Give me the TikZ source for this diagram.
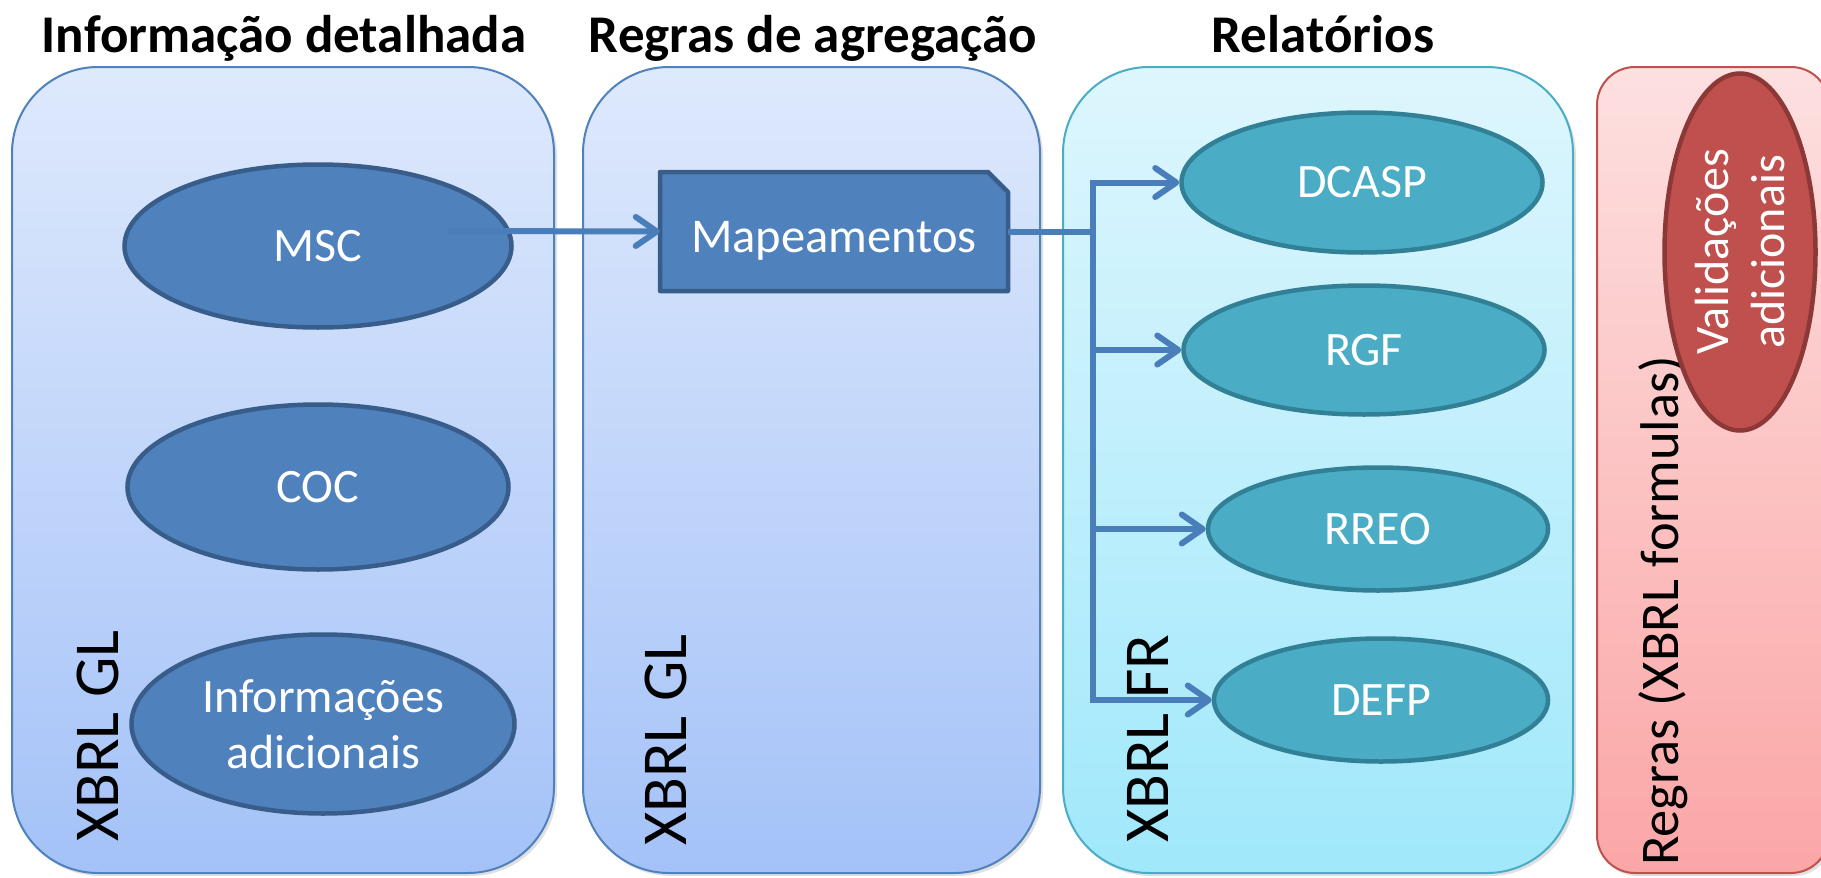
\documentclass[tikz,border=0pt]{standalone}
\usepackage{fontspec}
\setmainfont{Carlito}
\usetikzlibrary{arrows.meta,shapes.geometric,calc}
\definecolor{pbTop}{RGB}{222,233,252}
\definecolor{pbBot}{RGB}{164,194,248}
\definecolor{pbLine}{RGB}{79,129,189}
\definecolor{pcTop}{RGB}{222,246,253}
\definecolor{pcBot}{RGB}{160,232,251}
\definecolor{pcLine}{RGB}{75,172,198}
\definecolor{prTop}{RGB}{253,224,224}
\definecolor{prBot}{RGB}{251,166,166}
\definecolor{prLine}{RGB}{192,80,77}
\definecolor{eBlue}{RGB}{79,129,189}
\definecolor{eBlueLine}{RGB}{56,93,138}
\definecolor{eTeal}{RGB}{75,172,198}
\definecolor{eTealLine}{RGB}{49,128,150}
\definecolor{eRed}{RGB}{192,80,77}
\definecolor{eRedLine}{RGB}{140,56,54}
\definecolor{conn}{RGB}{74,126,187}
\begin{document}
\begin{tikzpicture}[x=1pt,y=-1pt,
  shadowbox/.style={fill=black,opacity=0.12},
  bluepanel/.style={draw=pbLine,line width=2pt,top color=pbTop,bottom color=pbBot},
  cyanpanel/.style={draw=pcLine,line width=2pt,top color=pcTop,bottom color=pcBot},
  redpanel/.style={draw=prLine,line width=2pt,top color=prTop,bottom color=prBot},
  title/.style={font=\fontsize{53}{60}\selectfont\bfseries,anchor=base,inner sep=0pt},
  vlabel/.style={font=\fontsize{64}{70}\selectfont,rotate=90,anchor=base west,inner sep=0pt},
  ellbase/.style={ellipse,line width=4.5pt,text=white,inner sep=0pt,
     font=\fontsize{48}{56}\selectfont,align=center},
  capc/.style={text height=30.3pt,text depth=0pt},
  blueell/.style={ellbase,draw=eBlueLine,fill=eBlue},
  tealell/.style={ellbase,draw=eTealLine,fill=eTeal,capc},
  redell/.style={ellbase,draw=eRedLine,fill=eRed},
  mapeshape/.style={draw=eBlueLine,fill=eBlue,line width=4.5pt,line join=round},
  arrow/.style={draw=conn,line width=6pt,-{Straight Barb[length=21pt,width=29pt,round]}}
]
\useasboundingbox (0,0) rectangle (1821,878);
\clip (0,0) rectangle (1821,878);
\fill[white] (0,0) rectangle (1821,878);

% titles
\node[title] (t1) at (284,52) {Informação detalhada};
\node[title] (t2) at (813,52) {Regras de agregação};
\node[title] (t3) at (1323,52) {Relatórios};

% panel shadows
\fill[shadowbox,rounded corners=86pt] (14,70) rectangle (557,876);
\fill[shadowbox,rounded corners=86pt] (585,70) rectangle (1043,876);
\fill[shadowbox,rounded corners=86pt] (1065,70) rectangle (1576,876);
\fill[shadowbox,rounded corners=38pt] (1599,70) rectangle (1832,876);

% panels
\path[bluepanel,rounded corners=86pt] (12,67) rectangle (554,873);
\path[bluepanel,rounded corners=86pt] (583,67) rectangle (1040,873);
\path[cyanpanel,rounded corners=86pt] (1063,67) rectangle (1573,873);
\path[redpanel,rounded corners=38pt] (1597,67) rectangle (1829,873);

% vertical labels
\node[vlabel] (gl1) at (118,842) {XBRL GL};
\node[vlabel] (gl2) at (686,846) {XBRL GL};
\node[vlabel] (fr) at (1168,843) {XBRL FR};
\node[font=\fontsize{54.5}{60}\selectfont,rotate=90,anchor=base west,inner sep=0pt] (rg) at (1678,866) {Regras (XBRL formulas)};

% left ellipses
\node[blueell,capc,minimum width=387pt,minimum height=163pt] (msc) at (318,246) {MSC};
\node[blueell,capc,minimum width=381pt,minimum height=165pt] (coc) at (318,487) {COC};
\node[blueell,minimum width=383pt,minimum height=179pt] (info) at (323,724) {Informações\\adicionais};

% Mapeamentos
\path[mapeshape] (660,172) -- (988,172) -- (1008,192) -- (1008,291) -- (660,291) -- cycle;
\node[text=white,font=\fontsize{48.5}{56}\selectfont,inner sep=0pt,minimum width=348pt,minimum height=119pt,
      text height=41pt,text depth=0pt] (mape) at (834,231.5) {Mapeamentos};

% reports
\node[tealell,minimum width=361pt,minimum height=140pt] (dcasp) at (1362,182.5) {DCASP};
\node[tealell,minimum width=361pt,minimum height=129pt] (rgf) at (1364,350) {RGF};
\node[tealell,minimum width=340pt,minimum height=123pt] (rreo) at (1378,529) {RREO};
\node[tealell,minimum width=334pt,minimum height=123pt] (defp) at (1381,700) {DEFP};

% validations
\node[redell,rotate=90,minimum width=357pt,minimum height=151pt] (valid) at (1740,252) {Validações\\adicionais};

% connectors
\coordinate (mscout) at ($(msc.center)+(130,-15)$);
\draw[arrow] (mscout) -- (mape.west);
\coordinate (split) at (1093,231.5);
\draw[arrow] (mape.east) -- (split) |- (dcasp.west);
\draw[arrow] (mape.east) -- (split) |- (rgf.west);
\draw[arrow] (mape.east) -- (split) |- (rreo.west);
\draw[arrow] (mape.east) -- (split) |- (defp.west);
\end{tikzpicture}
\end{document}
